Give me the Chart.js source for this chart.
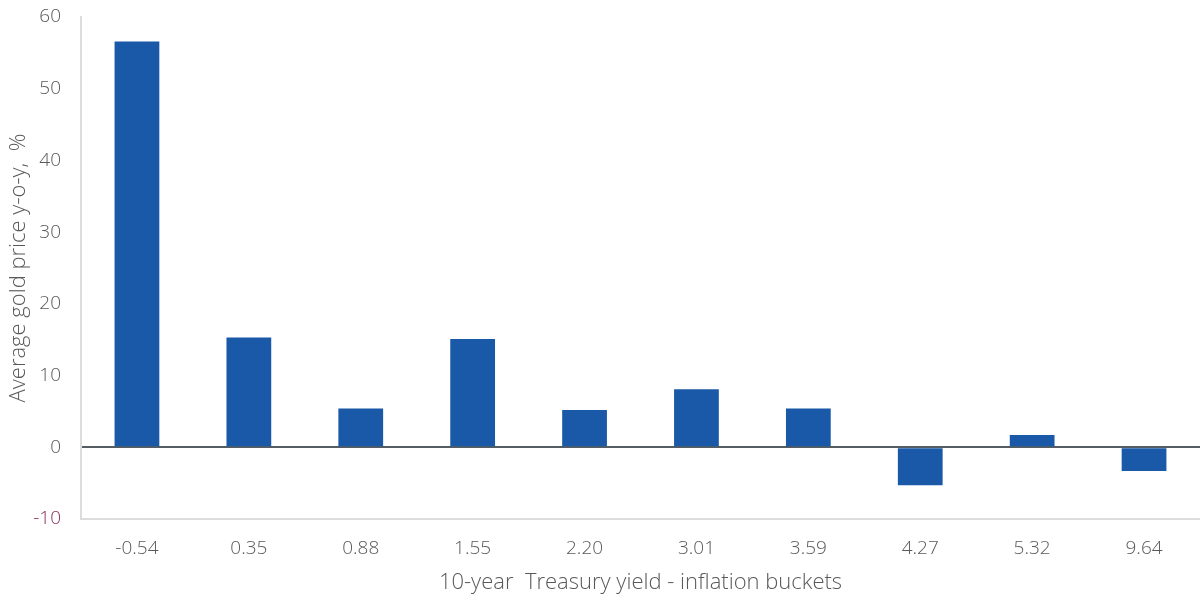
<!DOCTYPE html>
<html>
<head>
<meta charset="utf-8">
<script src="https://cdn.jsdelivr.net/npm/chart.js@4"></script>
<style>
  html, body { margin: 0; padding: 0; background: #fff; }
  #wrap { width: 1200px; height: 596px; }
</style>
</head>
<body>
<div id="wrap"><canvas id="myChart"></canvas></div>
<script>
const labels = ['-0.54', '0.35', '0.88', '1.55', '2.20', '3.01', '3.59', '4.27', '5.32', '9.64'];
const goldData = [56.6, 15.3, 5.4, 15.1, 5.2, 8.1, 5.4, -5.3, 1.7, -3.3];
const yTicks = [-10, 0, 10, 20, 30, 40, 50, 60];

const textColor = '#595959';
const tickFont = { family: 'Open Sans', size: 19, weight: 300 };
const titleFont = { family: 'Open Sans', size: 22, weight: 300 };

const config = {
    type: 'bar',
    data: {
        labels: labels,
        datasets: [{
            label: 'Average gold price y-o-y, %',
            data: goldData,
            backgroundColor: '#1a59a8',
            borderWidth: 0,
            barPercentage: 0.4,
            categoryPercentage: 1.0
        }]
    },
    options: {
        responsive: true,
        maintainAspectRatio: false,
        animation: false,
        layout: { padding: { top: 17, right: 0, left: 0, bottom: 0 } },
        plugins: {
            legend: { display: false },
            tooltip: { enabled: false }
        },
        scales: {
            x: {
                afterFit: (axis) => { axis.height = 77; },
                grid: { display: false },
                border: { display: true, color: '#dcdcdc', width: 2 },
                ticks: { color: textColor, font: tickFont, padding: 10 },
                title: {
                    display: true,
                    text: '10-year  Treasury yield - inflation buckets',
                    color: textColor,
                    font: titleFont,
                    padding: { top: 2, bottom: 0 }
                }
            },
            y: {
                min: -10,
                max: 60,
                afterFit: (axis) => {
                    axis.width = 81;
                    axis.paddingTop = 0;
                    axis.paddingBottom = 0;
                },
                afterBuildTicks: (axis) => { axis.ticks = yTicks.map(v => ({ value: v })); },
                grid: {
                    drawTicks: false,
                    color: (ctx) => ctx.tick && ctx.tick.value === 0 ? '#535d63' : 'transparent',
                    lineWidth: 2
                },
                border: { display: true, color: '#dcdcdc', width: 2 },
                ticks: {
                    color: (ctx) => ctx.tick && ctx.tick.value === -10 ? '#8a2d5d' : textColor,
                    font: tickFont,
                    padding: 20
                },
                title: {
                    display: true,
                    text: 'Average gold price y-o-y,  %',
                    color: textColor,
                    font: titleFont,
                    padding: { top: 6, bottom: 0 }
                }
            }
        }
    }
};

const myChart = new Chart(document.getElementById('myChart'), config);
</script>
</body>
</html>
